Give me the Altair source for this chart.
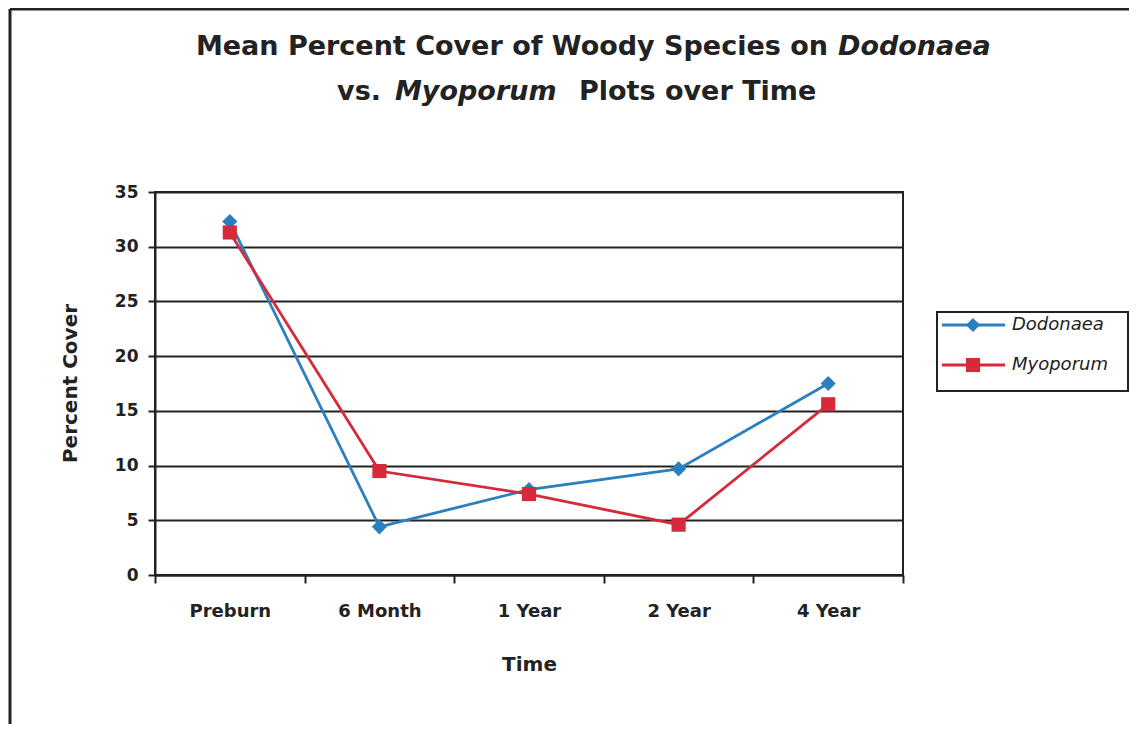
import altair as alt
import pandas as pd

categories = ["Preburn", "6 Month", "1 Year", "2 Year", "4 Year"]
series = ["Dodonaea", "Myoporum"]
dodonaea = [32.3, 4.4, 7.8, 9.7, 17.5]
myoporum = [31.3, 9.5, 7.4, 4.6, 15.6]
colors = ["#2a7fbf", "#d42a3c"]
y_ticks = [0, 5, 10, 15, 20, 25, 30, 35]

rows = []
for name, vals in zip(series, [dodonaea, myoporum]):
    for c, v in zip(categories, vals):
        rows.append({"Time": c, "Cover": v, "Series": name})
df = pd.DataFrame(rows)

FONT = "DejaVu Sans"
INK = "#222222"

x_enc = alt.X(
    "Time:N",
    sort=categories,
    bandPosition=0.5,
    scale=alt.Scale(type="band", paddingInner=0, paddingOuter=0),
    axis=alt.Axis(
        title="Time", labelAngle=0, tickBand="extent", tickSize=8, tickWidth=2,
        tickColor=INK, domainColor=INK, domainWidth=2, grid=False,
        labelFont=FONT, labelFontWeight="bold", labelFontSize=18, labelColor=INK,
        labelPadding=19, titleFont=FONT, titleFontWeight="bold", titleFontSize=20,
        titleColor=INK, titleY=89, titleBaseline="middle",
    ),
)
y_enc = alt.Y(
    "Cover:Q",
    scale=alt.Scale(domain=[0, 35], nice=False),
    axis=alt.Axis(
        title="Percent Cover", values=y_ticks, tickSize=7, tickWidth=2, tickColor=INK,
        domainColor=INK, domainWidth=2, grid=True, gridColor=INK, gridWidth=2,
        gridOpacity=1, labelFont=FONT, labelFontWeight="bold", labelFontSize=17,
        labelColor=INK, labelPadding=10, titleFont=FONT, titleFontWeight="bold",
        titleFontSize=20, titleColor=INK, titleX=-85, titleY=191,
        titleBaseline="middle", titleAlign="center",
    ),
)
color_enc = alt.Color("Series:N", scale=alt.Scale(domain=series, range=colors), legend=None)

lines = alt.Chart(df).mark_line(strokeWidth=2.8).encode(x=x_enc, y=y_enc, color=color_enc)
points = alt.Chart(df).mark_point(filled=True, opacity=1).encode(
    x=x_enc, y=y_enc, color=color_enc,
    shape=alt.Shape("Series:N", scale=alt.Scale(domain=series, range=["diamond", "square"]), legend=None),
    size=alt.Size("Series:N", scale=alt.Scale(domain=series, range=[230, 200]), legend=None),
)

one = alt.Data(values=[{}])


def txt(s, x, y, align, italic=False, size=27):
    return alt.Chart(one).mark_text(
        font=FONT, fontWeight="bold", fontStyle="italic" if italic else "normal",
        fontSize=size, color=INK, align=align, baseline="middle",
    ).encode(x=alt.value(x), y=alt.value(y), text=alt.value(s))


title_layers = [
    txt("Mean Percent Cover of Woody Species on", 673, -145, "right"),
    txt("Dodonaea", 683, -145, "left", italic=True),
    txt("vs.", 226, -100, "right"),
    txt("Myoporum", 240, -100, "left", italic=True),
    txt("Plots over Time", 424, -100, "left"),
]

# Legend
legend_box = alt.Chart(one).mark_rect(fill="white", stroke=INK, strokeWidth=2).encode(
    x=alt.value(782), x2=alt.value(973), y=alt.value(120), y2=alt.value(199)
)
legend_layers = [legend_box]
for name, col, shp, sz, ly in [
    (series[0], colors[0], "diamond", 200, 133),
    (series[1], colors[1], "square", 200, 173),
]:
    legend_layers.append(
        alt.Chart(one).mark_rule(color=col, strokeWidth=2.8).encode(
            x=alt.value(787), x2=alt.value(850), y=alt.value(ly)
        )
    )
    legend_layers.append(
        alt.Chart(one).mark_point(filled=True, opacity=1, color=col, shape=shp, size=sz).encode(
            x=alt.value(818), y=alt.value(ly)
        )
    )
    legend_layers.append(
        alt.Chart(one).mark_text(
            font=FONT, fontStyle="italic", fontSize=18, color=INK, align="left", baseline="middle"
        ).encode(x=alt.value(857), y=alt.value(ly), text=alt.value(name))
    )

# Outer frame (left and top)
frame = [
    alt.Chart(one).mark_rule(color=INK, strokeWidth=3).encode(
        x=alt.value(-145), y=alt.value(-183), y2=alt.value(532)
    ),
    alt.Chart(one).mark_rule(color=INK, strokeWidth=3).encode(
        x=alt.value(-145), x2=alt.value(974), y=alt.value(-183)
    ),
]

chart = alt.layer(lines, points, *title_layers, *legend_layers, *frame).properties(
    width=748,
    height=383,
    autosize=alt.AutoSizeParams(type="none"),
    padding={"left": 147, "top": 184, "right": 226, "bottom": 149},
    background="white",
).configure_view(stroke=INK, strokeWidth=2)

chart.save("out.html", embed_options={"renderer": "svg", "actions": False})
